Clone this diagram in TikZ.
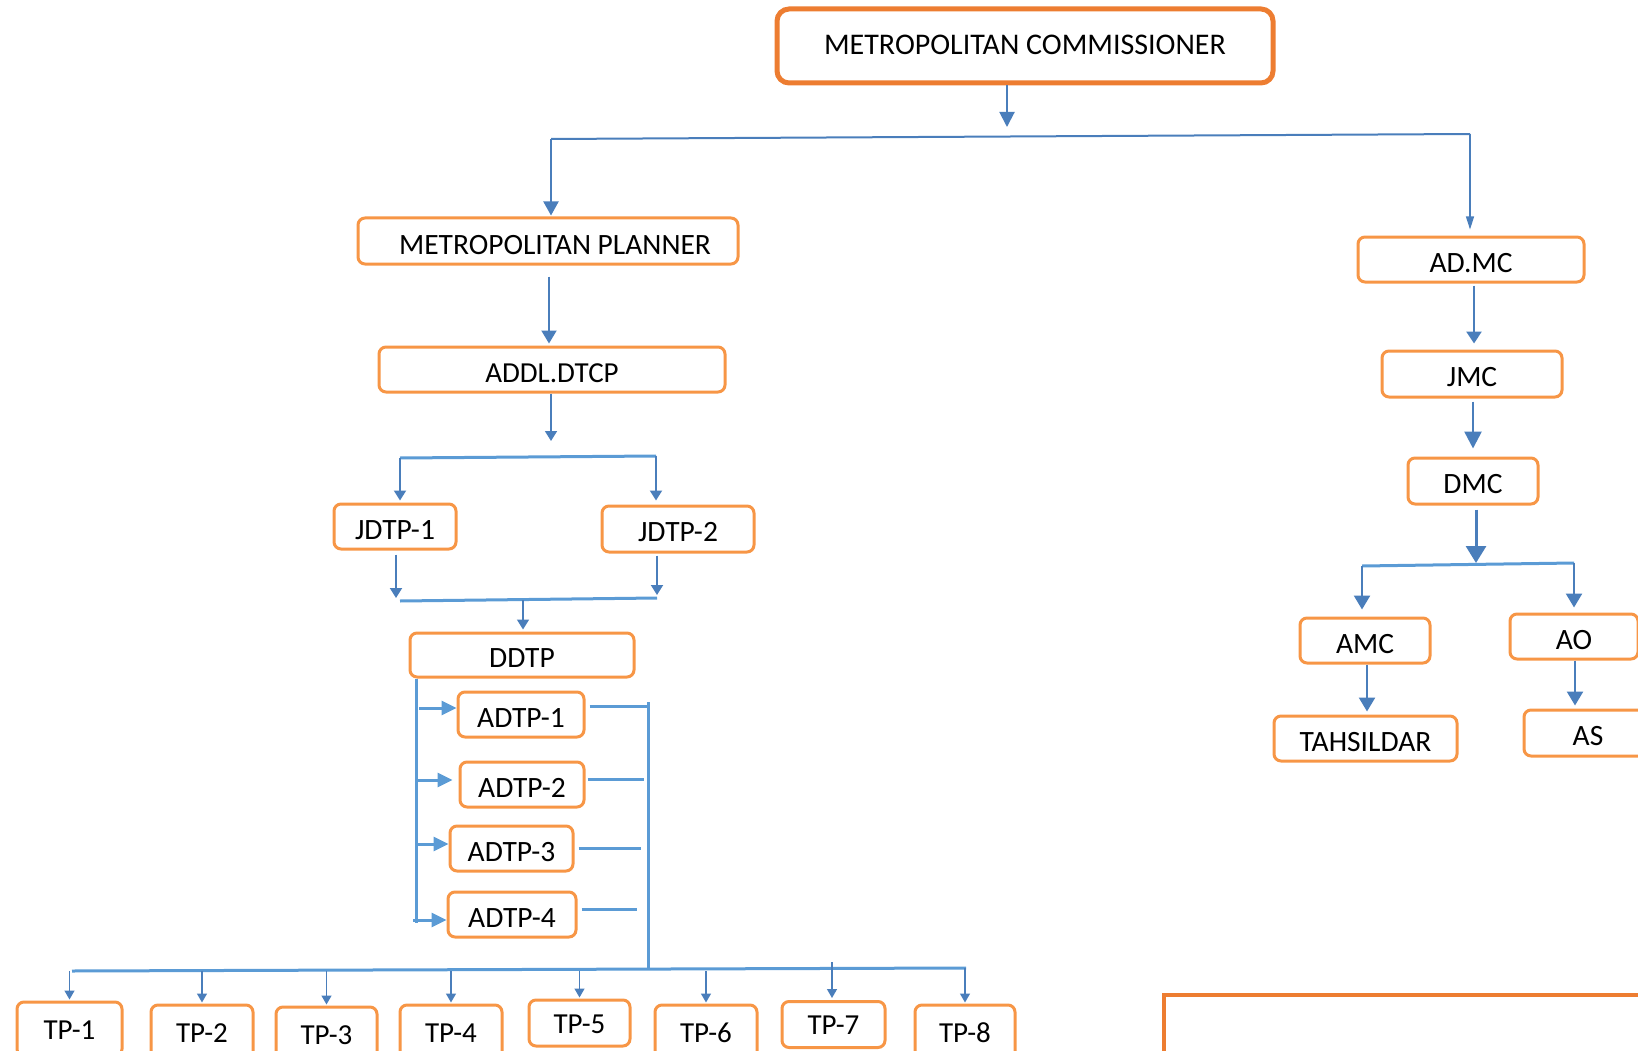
\documentclass[tikz,border=0pt]{standalone}
\usepackage{fontspec}
\setmainfont{Carlito}
\usetikzlibrary{arrows.meta}
\definecolor{boxor}{HTML}{F79646}
\definecolor{mcor}{HTML}{ED7D31}
\definecolor{lnblue}{HTML}{4A7EBB}
\definecolor{ltblue}{HTML}{5B9BD5}
\begin{document}
\begin{tikzpicture}[x=1pt,y=-1pt,
  box/.style={draw=boxor,line width=3pt,rounded corners=7pt,fill=white,inner sep=0pt,
    text height=25pt,text depth=0pt,font=\fontsize{29.5}{30}\selectfont},
  tpbox/.style={box,minimum width=102pt,text height=20pt,font=\fontsize{29}{30}\selectfont},
  conn/.style={draw=lnblue,line width=2pt},
  bus/.style={draw=ltblue,line width=3pt},
  arr/.style={conn,-{Triangle[width=12pt,length=10pt]}},
  bigarr/.style={conn,line width=2.6pt,-{Triangle[width=16pt,length=14pt]}},
  tparr/.style={conn,line width=1.4pt,-{Triangle[width=10pt,length=9pt]}},
  adarr/.style={draw=ltblue,line width=3pt,-{Triangle[width=14pt,length=15pt]}},
  adln/.style={draw=ltblue,line width=3pt}]
\useasboundingbox (0,0) rectangle (1638,1051);
% boxes
\node[box,draw=mcor,line width=5pt,rounded corners=12pt,minimum width=496pt,minimum height=74pt,
  text height=17.4pt,font=\fontsize{30}{30}\selectfont] (mc) at (1025,46) {METROPOLITAN COMMISSIONER};
\node[box,minimum width=380pt,minimum height=46pt,text height=27pt,font=\fontsize{29.5}{30}\selectfont] (mp) at (548,241) {\hspace*{14pt}METROPOLITAN PLANNER};
\node[box,minimum width=346pt,minimum height=45pt,text height=25.6pt,font=\fontsize{29}{30}\selectfont] (addl) at (552,369.5) {ADDL.DTCP};
\node[box,minimum width=122pt,minimum height=45pt] (j1) at (395,526.5) {JDTP-1};
\node[box,minimum width=152pt,minimum height=46pt] (j2) at (678,529) {JDTP-2};
\node[box,minimum width=224pt,minimum height=44pt] (ddtp) at (522,655) {DDTP};
\node[box,minimum width=126pt,minimum height=45pt] (a1) at (521,714.5) {ADTP-1};
\node[box,minimum width=124pt,minimum height=45pt] (a2) at (522,784.5) {ADTP-2};
\node[box,minimum width=123pt,minimum height=45pt] (a3) at (511.5,848.5) {ADTP-3};
\node[box,minimum width=128pt,minimum height=45pt] (a4) at (512,914.5) {ADTP-4};
\node[tpbox,minimum width=105pt,minimum height=54pt] (tp1) at (69.5,1029) {TP-1};
\node[tpbox,minimum height=54pt] (tp2) at (202,1032) {TP-2};
\node[tpbox,minimum width=101pt,minimum height=54pt] (tp3) at (326.5,1034) {TP-3};
\node[tpbox,minimum height=54pt] (tp4) at (451,1032) {TP-4};
\node[tpbox,minimum width=101pt,minimum height=46pt] (tp5) at (579.5,1023) {TP-5};
\node[tpbox,minimum height=54pt] (tp6) at (706,1032) {TP-6};
\node[tpbox,minimum width=103pt,minimum height=46pt] (tp7) at (833.5,1024.5) {TP-7};
\node[tpbox,minimum width=100pt,minimum height=54pt] (tp8) at (965,1032) {TP-8};
\node[box,minimum width=226pt,minimum height=45pt] (admc) at (1471,259.5) {AD.MC};
\node[box,minimum width=180pt,minimum height=46pt] (jmc) at (1472,374) {JMC};
\node[box,minimum width=130pt,minimum height=46pt] (dmc) at (1473,481) {DMC};
\node[box,minimum width=130pt,minimum height=45pt] (amc) at (1365,640.5) {AMC};
\node[box,minimum width=128pt,minimum height=45pt] (ao) at (1574,636.5) {AO};
\node[box,minimum width=183pt,minimum height=45pt] (tahs) at (1365.5,738.5) {TAHSILDAR};
\node[box,minimum width=128pt,minimum height=46pt] (as) at (1588,733) {AS};
% bottom-right frame
\draw[draw=mcor,line width=4pt] (1164,1100) -- (1164,995) -- (1700,995);
% coordinates
\coordinate (mcTip) at (1007,127);
\coordinate (busL) at (551,139);
\coordinate (busR) at (1470,134);
\coordinate (x549) at (549,0);
\coordinate (addlTip) at (551,441);
\coordinate (jbL) at (400,458);
\coordinate (jbR) at (656,456);
\coordinate (j1Tip) at (396,598);
\coordinate (j2Tip) at (657,595);
\coordinate (b2L) at (400,601);
\coordinate (b2R) at (657,598);
\coordinate (b2M) at (523,600);
\coordinate (dvB) at (416,923);
\coordinate (a1s) at (419,708);
\coordinate (a2s) at (416,780);
\coordinate (a3s) at (416,844);
\coordinate (a4s) at (413,920);
\coordinate (rv1) at (648,706);
\coordinate (rv2) at (644,779);
\coordinate (rv3) at (641,848);
\coordinate (rv4) at (637,909);
\coordinate (rvTop) at (648,702);
\coordinate (rvBot) at (648,970);
\coordinate (tbL) at (72,971);
\coordinate (tbR) at (966,968);
\coordinate (t7s) at (832,962);
\coordinate (x1474) at (1474,0);
\coordinate (x1473) at (1473,0);
\coordinate (dTip) at (1476,563);
\coordinate (dbL) at (1362,566);
\coordinate (dbR) at (1574,563);
\coordinate (x1367) at (1367,0);
\coordinate (x1575) at (1575,0);
% top level
\draw[conn,-{Triangle[width=15pt,length=15pt]}] (mc.south -| mcTip) -- (mcTip);
\draw[conn] (busL) -- (busR);
\draw[conn,line width=1.2pt,-{Triangle[width=8pt,length=13pt]},shorten >=6pt] (busR) -- (admc.north -| busR);
\draw[conn,-{Triangle[width=15pt,length=14pt]},shorten >=1pt] (busL) -- (mp.north -| busL);
% left branch
\draw[conn,-{Triangle[width=15pt,length=13pt]},shorten <=11pt,shorten >=2pt] (mp.south -| x549) -- (addl.north -| x549);
\draw[arr,line width=1.6pt] (addl.south -| addlTip) -- (addlTip);
\draw[bus] (jbL) -- (jbR);
\draw[arr,shorten >=2pt] (jbL) -- (j1.north -| jbL);
\draw[arr,shorten >=4pt] (jbR) -- (j2.north -| jbR);
\draw[arr,shorten <=4pt] (j1.south -| j1Tip) -- (j1Tip);
\draw[arr,shorten <=2pt] (j2.south -| j2Tip) -- (j2Tip);
\draw[bus] (b2L) -- (b2R);
\draw[arr,line width=1.6pt,shorten >=2pt] (b2M) -- (ddtp.north -| b2M);
\draw[adln] (ddtp.south -| dvB) -- (dvB);
\draw[adarr] (a1s) -- (a1.west |- a1s);
\draw[adarr,shorten >=6pt] (a2s) -- (a2.west |- a2s);
\draw[adarr] (a3s) -- (a3.west |- a3s);
\draw[adarr] (a4s) -- (a4.west |- a4s);
\draw[adln,shorten <=4pt] (a1.east |- rv1) -- (rv1);
\draw[adln,shorten <=2pt] (a2.east |- rv2) -- (rv2);
\draw[adln,shorten <=4pt] (a3.east |- rv3) -- (rv3);
\draw[adln,shorten <=4pt] (a4.east |- rv4) -- (rv4);
\draw[adln] (rvTop) -- (rvBot);
\draw[bus] (tbL) -- (tbR);
\draw[tparr,shorten >=1pt] (tp1.north |- tbL) -- (tp1.north);
\draw[tparr,shorten >=1pt] (tp2.north |- tbL) -- (tp2.north);
\draw[tparr,shorten >=1pt] (tp3.north |- tbL) -- (tp3.north);
\draw[tparr,shorten >=1pt] (tp4.north |- tbL) -- (tp4.north);
\draw[tparr,shorten >=1pt] (tp5.north |- tbL) -- (tp5.north);
\draw[tparr,shorten >=1pt] (tp6.north |- tbL) -- (tp6.north);
\draw[tparr,shorten >=2pt] (t7s) -- (tp7.north -| t7s);
\draw[tparr,shorten >=1pt] (tp8.north |- tbR) -- (tp8.north);
% right branch
\draw[conn,line width=2.6pt,-{Triangle[width=15pt,length=12pt]},shorten <=2pt,shorten >=6pt] (admc.south -| x1474) -- (jmc.north -| x1474);
\draw[conn,line width=2.6pt,-{Triangle[width=17pt,length=17pt]},shorten <=3pt,shorten >=8pt] (jmc.south -| x1473) -- (dmc.north -| x1473);
\draw[conn,line width=3pt,-{Triangle[width=20pt,length=17pt]},shorten <=4pt] (dmc.south -| dTip) -- (dTip);
\draw[bus] (dbL) -- (dbR);
\draw[bigarr,shorten >=7pt] (dbL) -- (amc.north -| dbL);
\draw[bigarr,shorten >=5pt] (dbR) -- (ao.north -| dbR);
\draw[bigarr,shorten >=3pt] (amc.south -| x1367) -- (tahs.north -| x1367);
\draw[bigarr,shorten >=3pt] (ao.south -| x1575) -- (as.north -| x1575);
\end{tikzpicture}
\end{document}
